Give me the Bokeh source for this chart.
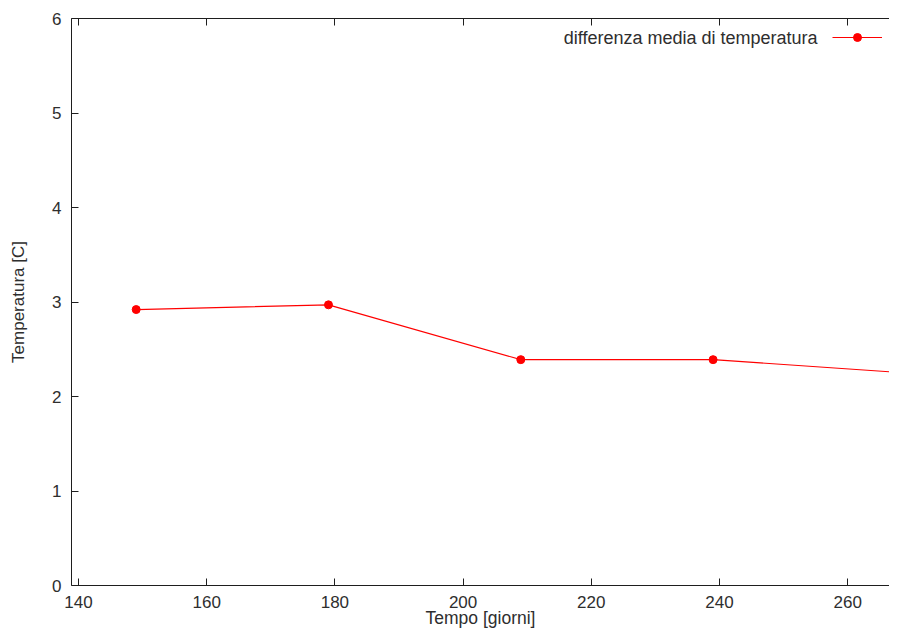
from bokeh.plotting import figure
from bokeh.models import (Range1d, LinearAxis, FixedTicker, Legend, LegendItem, Label,
                          CustomLabelingPolicy)
from bokeh.core.properties import value
from bokeh.embed import file_html
from bokeh.resources import INLINE

# ---- data ----
giorni = [149, 179, 209, 239, 269]
temperatura = [2.92, 2.97, 2.39, 2.39, 2.25]
x_ticks = [140, 160, 180, 200, 220, 240, 260]
y_ticks = [0, 1, 2, 3, 4, 5, 6]
serie_label = "differenza media di temperatura"
x_title = "Tempo [giorni]"
y_title = "Temperatura [C]"

FONT = "Liberation Sans"
AXC = "#1e1e1e"
TXC = "#2e2e2e"

p = figure(width=889, height=630, output_backend="svg", toolbar_location=None,
           x_range=Range1d(138.91, 266.52), y_range=Range1d(0, 6),
           x_axis_location=None, y_axis_location=None)
p.min_border_left = 71
p.min_border_top = 18
p.min_border_bottom = 45
p.min_border_right = 0
p.outline_line_color = None
p.background_fill_color = "white"
p.border_fill_color = "white"
p.grid.visible = False


def style(ax):
    ax.axis_line_color = AXC
    ax.axis_line_width = 1
    ax.major_tick_line_color = AXC
    ax.major_tick_in = 7
    ax.major_tick_out = 0
    ax.minor_tick_line_color = None
    ax.major_label_text_font = FONT
    ax.major_label_text_color = TXC
    ax.major_label_text_font_size = "17px"
    ax.axis_label_text_font = FONT
    ax.axis_label_text_font_style = "normal"
    ax.axis_label_text_color = TXC


xb = LinearAxis(ticker=FixedTicker(ticks=x_ticks), axis_label=x_title)
style(xb)
xb.major_label_standoff = 10
xb.axis_label_text_font_size = "17.5px"
xb.axis_label_standoff = -3
p.add_layout(xb, "below")

xt = LinearAxis(ticker=FixedTicker(ticks=x_ticks),
                major_label_policy=CustomLabelingPolicy(
                    code="for (const i of Array.from(indices)) indices.unset(i); return indices"))
style(xt)
xt.major_label_text_font_size = "10px"
xt.major_label_standoff = 0
p.add_layout(xt, "above")

yl = LinearAxis(ticker=FixedTicker(ticks=y_ticks), axis_label=y_title)
style(yl)
yl.major_label_standoff = 10
yl.axis_label_text_font_size = "17px"
yl.axis_label_standoff = 21
p.add_layout(yl, "left")

line = p.line(giorni, temperatura, line_color="red", line_width=1.2)
pts = p.scatter(giorni, temperatura, size=8, fill_color="red", line_color="red")

# gnuplot-style key: text on the left, sample on the right
legend = Legend(items=[LegendItem(label=value(""), renderers=[line, pts])],
                location=(761, 538), glyph_width=50, glyph_height=20,
                padding=0, margin=0, spacing=0, label_standoff=0, label_width=0,
                label_text_font=FONT, label_text_font_size="2px",
                border_line_color=None, background_fill_alpha=0)
p.add_layout(legend, "center")

p.add_layout(Label(x=746, y=548, x_units="screen", y_units="screen", text=serie_label,
                   text_font=FONT, text_font_size="18px", text_color=TXC,
                   text_align="right", text_baseline="middle"))

open("out.html", "w").write(file_html(p, INLINE))
